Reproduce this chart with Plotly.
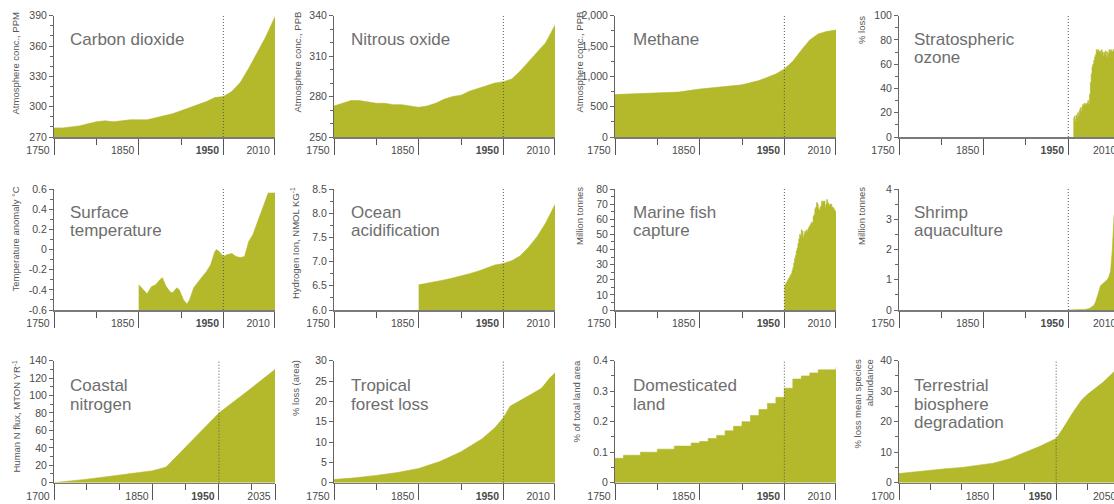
import numpy as np
import plotly.graph_objects as go

# ---------------- data ----------------
dec_years = [1750, 1760, 1770, 1780, 1790, 1800, 1810, 1820, 1830, 1840, 1850, 1860, 1870,
             1880, 1890, 1900, 1910, 1920, 1930, 1940, 1950, 1960, 1970, 1980, 1990, 2000, 2011]
co2_ppm = [279, 279, 280, 281, 283, 285, 286, 285, 286, 287, 287, 287, 289,
           291, 293, 296, 299, 302, 305, 309, 310, 315, 324, 338, 353, 369, 389]
n2o_ppb = [273, 275, 277, 277, 276, 275, 275, 274, 274, 273, 272, 273, 275,
           278, 280, 281, 284, 286, 288, 290, 291, 293, 299, 306, 313, 320, 333]

ch4_years = [1750, 1775, 1800, 1825, 1850, 1875, 1900, 1920, 1940, 1950, 1960, 1970, 1980, 1990, 2000, 2011]
ch4_ppb = [700, 715, 725, 740, 790, 820, 860, 930, 1040, 1120, 1250, 1430, 1600, 1700, 1740, 1765]

ozone_years = list(range(1956, 2011))
ozone_loss = [15, 17, 13, 18, 16, 20, 18, 22, 24, 21, 25, 27, 26, 28, 27, 27, 28, 30, 27, 35,
              45, 52, 58, 60, 63, 66, 68, 72, 71, 72, 70, 71, 69, 72, 70, 67, 70, 68, 71, 66,
              70, 68, 72, 70, 72, 71, 70, 72, 69, 71, 70, 72, 70, 71, 70]

temp_years = [1850, 1855, 1860, 1865, 1870, 1875, 1878, 1882, 1887, 1890, 1895, 1898, 1903, 1907,
              1910, 1915, 1920, 1925, 1930, 1935, 1940, 1942, 1945, 1950, 1955, 1960, 1965, 1970,
              1975, 1980, 1985, 1990, 1995, 2000, 2003, 2011]
temp_anom = [-0.35, -0.40, -0.44, -0.37, -0.35, -0.30, -0.28, -0.36, -0.42, -0.43, -0.38, -0.40,
             -0.50, -0.54, -0.50, -0.38, -0.32, -0.27, -0.22, -0.15, -0.02, 0.0, -0.02, -0.07,
             -0.05, -0.04, -0.07, -0.08, -0.07, 0.08, 0.15, 0.26, 0.37, 0.50, 0.56, 0.56]

ocean_years = [1850, 1860, 1870, 1880, 1890, 1900, 1910, 1920, 1930, 1940, 1950, 1960, 1970, 1980, 1990, 2000, 2011]
ocean_h = [6.52, 6.55, 6.58, 6.62, 6.66, 6.70, 6.75, 6.80, 6.86, 6.93, 6.96, 7.02, 7.12, 7.30, 7.52, 7.80, 8.18]

fish_years = list(range(1950, 2012))
fish_mt = [16, 17, 18, 19, 20, 21, 22, 23, 24, 26, 28, 31, 34, 36, 39, 41, 44, 47, 50, 49,
           53, 52, 48, 50, 52, 51, 53, 52, 54, 55, 56, 57, 58, 58, 62, 63, 67, 68, 71, 70,
           67, 66, 68, 69, 72, 71, 72, 72, 68, 70, 73, 71, 70, 69, 70, 70, 68, 68, 67, 66, 65, 65]

shrimp_years = [1950, 1960, 1970, 1975, 1978, 1980, 1982, 1984, 1986, 1988, 1990, 1992, 1994,
                1996, 1998, 2000, 2002, 2003, 2004, 2006, 2008, 2010]
shrimp_mt = [0, 0, 0.02, 0.05, 0.1, 0.15, 0.25, 0.4, 0.6, 0.8, 0.85, 0.9, 0.95,
             1.0, 1.1, 1.3, 2.0, 2.8, 3.1, 3.4, 3.6, 3.8]

nitro_years = [1700, 1720, 1750, 1800, 1850, 1870, 1950, 2000, 2035]
nitro_flux = [0, 1.5, 4, 8.8, 13.8, 18, 80, 109, 130]

forest_years = [1750, 1775, 1800, 1825, 1850, 1875, 1900, 1925, 1940, 1950, 1958, 1965, 1975, 1985, 1995, 2000, 2005, 2011]
forest_loss = [0.8, 1.2, 1.8, 2.5, 3.5, 5.2, 7.6, 10.8, 13.5, 16, 18.8, 19.7, 20.8, 22, 23.2, 24.5, 25.8, 27]

land_years = [1750, 1760, 1770, 1780, 1790, 1800, 1810, 1820, 1830, 1840, 1850, 1860, 1870, 1880,
              1890, 1900, 1910, 1920, 1930, 1940, 1950, 1960, 1970, 1980, 1990, 2000, 2011]
land_frac = [0.08, 0.09, 0.09, 0.10, 0.10, 0.11, 0.11, 0.12, 0.12, 0.13, 0.135, 0.145, 0.155, 0.17,
             0.185, 0.20, 0.22, 0.24, 0.26, 0.28, 0.31, 0.34, 0.35, 0.36, 0.37, 0.37, 0.38]

bio_years = [1700, 1725, 1750, 1775, 1800, 1825, 1850, 1875, 1900, 1925, 1950, 1960, 1975, 1990, 2000, 2025, 2050]
bio_loss = [3, 3.6, 4.2, 4.6, 5, 5.6, 6.4, 7.8, 9.8, 12, 14.5, 17.5, 22.5, 27, 29, 33, 38]

# tick labels
x_ticks_std = [1750, 1850, 1950, 2010]
x_text_std = ['1750', '1850', '<b>1950</b>', '2010']
x_minor_std = [1800, 1900]
x_ticks_cut = [1750, 1850, 1950]
x_text_cut = ['1750', '1850', '<b>1950</b>']
x_ticks_1700 = [1700, 1850, 1950, 2035]
x_text_1700 = ['1700', '1850', '<b>1950</b>', '2035']
x_ticks_1700cut = [1700, 1850, 1950]
x_text_1700cut = ['1700', '1850', '<b>1950</b>']
x_minor_1700 = [1750, 1800, 1900, 2000]

# ---------------- styling / layout ----------------
W, H = 1114, 504
FILL = '#b3b92b'
FONT = 'Liberation Sans, Arial, sans-serif'
TITLE_C = '#6e6e6e'
TICK_C = '#4a4a4a'

col_left = [54, 334, 615, 899]
col_w = 221
rows = [(15.7, 137.0), (189.0, 310.0), (360.7, 482.7)]


def px_x(p):
    return min(max(p / W, 0.0), 1.0)


def px_y(p):
    return min(max(1 - p / H, 0.0), 1.0)


panels = [
    dict(r=0, c=0, x=dec_years, y=co2_ppm, yr=[270, 390], yt=[270, 300, 330, 360, 390],
         ytt=['270', '300', '330', '360', '390'], ym=10, xr=[1750, 2011],
         title=['Carbon dioxide'], ytitle='Atmosphere conc., PPM', ytx=15, yty=10),
    dict(r=0, c=1, x=dec_years, y=n2o_ppb, yr=[250, 340], yt=[250, 280, 310, 340],
         ytt=['250', '280', '310', '340'], ym=10, xr=[1750, 2011],
         title=['Nitrous oxide'], ytitle='Atmosphere conc., PPB', ytx=297, yty=10),
    dict(r=0, c=2, x=ch4_years, y=ch4_ppb, yr=[0, 2000], yt=[0, 500, 1000, 1500, 2000],
         ytt=['0', '500', '1,000', '1,500', '2,000'], ym=250, xr=[1750, 2011],
         title=['Methane'], ytitle='Atmosphere conc., PPB', ytx=579, yty=10),
    dict(r=0, c=3, x=ozone_years, y=ozone_loss, yr=[0, 100], yt=[0, 20, 40, 60, 80, 100],
         ytt=['0', '20', '40', '60', '80', '100'], ym=10, xr=[1750, 2004], shape='hv',
         title=['Stratospheric', 'ozone'], ytitle='% loss', ytx=861, yty=14, cut='2010'),
    dict(r=1, c=0, x=temp_years, y=temp_anom, yr=[-0.6, 0.6], yt=[-0.6, -0.4, -0.2, 0, 0.2, 0.4, 0.6],
         ytt=['-0.6', '-0.4', '-0.2', '0', '0.2', '0.4', '0.6'], ym=0.1, xr=[1750, 2011], base=-0.6,
         title=['Surface', 'temperature'], ytitle='Temperature anomaly °C', ytx=15, yty=185),
    dict(r=1, c=1, x=ocean_years, y=ocean_h, yr=[6.0, 8.5], yt=[6.0, 6.5, 7.0, 7.5, 8.0, 8.5],
         ytt=['6.0', '6.5', '7.0', '7.5', '8.0', '8.5'], ym=0.25, xr=[1750, 2011],
         title=['Ocean', 'acidification'], ytitle='Hydrogen Ion, NMOL KG<sup>-1</sup>', ytx=295, yty=185),
    dict(r=1, c=2, x=fish_years, y=fish_mt, yr=[0, 80], yt=[0, 10, 20, 30, 40, 50, 60, 70, 80],
         ytt=['0', '10', '20', '30', '40', '50', '60', '70', '80'], ym=5, xr=[1750, 2011], shape='hv',
         title=['Marine fish', 'capture'], ytitle='Million tonnes', ytx=579, yty=185),
    dict(r=1, c=3, x=shrimp_years, y=shrimp_mt, yr=[0, 4], yt=[0, 1, 2, 3, 4],
         ytt=['0', '1', '2', '3', '4'], ym=0.5, xr=[1750, 2004],
         title=['Shrimp', 'aquaculture'], ytitle='Million tonnes', ytx=861, yty=185, cut='2010'),
    dict(r=2, c=0, x=nitro_years, y=nitro_flux, yr=[0, 140], yt=[0, 20, 40, 60, 80, 100, 120, 140],
         ytt=['0', '20', '40', '60', '80', '100', '120', '140'], ym=10, xr=[1700, 2035], x1700=True,
         title=['Coastal', 'nitrogen'], ytitle='Human N flux, MTON YR<sup>-1</sup>', ytx=16, yty=358),
    dict(r=2, c=1, x=forest_years, y=forest_loss, yr=[0, 30], yt=[0, 5, 10, 15, 20, 25, 30],
         ytt=['0', '5', '10', '15', '20', '25', '30'], ym=None, xr=[1750, 2011],
         title=['Tropical', 'forest loss'], ytitle='% loss (area)', ytx=295, yty=358),
    dict(r=2, c=2, x=land_years, y=land_frac, yr=[0, 0.4], yt=[0, 0.1, 0.2, 0.3, 0.4],
         ytt=['0', '0.1', '0.2', '0.3', '0.4'], ym=0.05, xr=[1750, 2011], shape='hv',
         title=['Domesticated', 'land'], ytitle='% of total land area', ytx=576, yty=358),
    dict(r=2, c=3, x=bio_years, y=bio_loss, yr=[0, 40], yt=[0, 10, 20, 30, 40],
         ytt=['0', '10', '20', '30', '40'], ym=5, xr=[1700, 2042], x1700=True,
         title=['Terrestrial', 'biosphere', 'degradation'],
         ytitle='% loss mean species<br>abundance', ytx=863, yty=358, cut='2050'),
]

fig = go.Figure()
layout = {}
shapes = []
annotations = []

title_lines_y = {0: [40, 57.5], 1: [212.7, 231], 2: [385.5, 404, 422]}

for i, p in enumerate(panels):
    n = i + 1
    xa = 'x' if n == 1 else f'x{n}'
    ya = 'y' if n == 1 else f'y{n}'
    xkey = 'xaxis' if n == 1 else f'xaxis{n}'
    ykey = 'yaxis' if n == 1 else f'yaxis{n}'
    r, c = p['r'], p['c']
    top, bot = rows[r]
    left = col_left[c]
    right = min(left + col_w, W)
    cut = p.get('cut')

    shape = p.get('shape', 'linear')
    if p.get('base') is not None:
        fig.add_trace(go.Scatter(x=p['x'], y=[p['base']] * len(p['x']), xaxis=xa, yaxis=ya,
                                 mode='lines', line=dict(width=0, color=FILL),
                                 hoverinfo='skip', showlegend=False))
        fillmode = 'tonexty'
    else:
        fillmode = 'tozeroy'
    fig.add_trace(go.Scatter(x=p['x'], y=p['y'], xaxis=xa, yaxis=ya, mode='lines',
                             line=dict(width=0.6, color=FILL, shape=shape),
                             fill=fillmode, fillcolor=FILL, hoverinfo='skip', showlegend=False))

    if p.get('x1700'):
        tv, tt = (x_ticks_1700cut, x_text_1700cut) if cut else (x_ticks_1700, x_text_1700)
        mv = x_minor_1700
    else:
        tv, tt = (x_ticks_cut, x_text_cut) if cut else (x_ticks_std, x_text_std)
        mv = x_minor_std

    layout[xkey] = dict(
        domain=[px_x(left), px_x(right)], range=p['xr'], anchor=ya,
        automargin=False,
        showgrid=False, zeroline=False, showline=True, linecolor='#7a7a7a', linewidth=1.5,
        tickmode='array', tickvals=tv, ticktext=tt, ticks='outside', ticklen=16,
        tickcolor='#555', tickwidth=1, ticklabelshift=-16, ticklabelstandoff=-13,
        tickfont=dict(family=FONT, size=10.5, color=TICK_C),
        minor=dict(tickvals=mv, ticks='outside', ticklen=6, tickcolor='#555', tickwidth=1, showgrid=False),
        fixedrange=True,
    )
    ymin, ymax = p['yr']
    ymd = dict(ticks='outside', ticklen=3, tickcolor='#666', tickwidth=1, showgrid=False)
    if p['ym'] is not None:
        ymd['tickvals'] = [float(v) for v in np.arange(ymin, ymax + 1e-9, p['ym'])]
    else:
        ymd['ticks'] = ''
    layout[ykey] = dict(
        domain=[px_y(bot), px_y(top)], range=p['yr'], anchor=xa, automargin=False,
        showgrid=False, zeroline=False, showline=True, linecolor='#666', linewidth=1,
        tickmode='array', tickvals=p['yt'], ticktext=p['ytt'], ticks='outside', ticklen=4,
        tickcolor='#666', tickwidth=1, tickfont=dict(family=FONT, size=10.5, color=TICK_C),
        minor=ymd, fixedrange=True,
    )

    shapes.append(dict(type='line', xref=xa, yref=f'{ya} domain', x0=1950, x1=1950, y0=0, y1=1,
                       line=dict(color='#555', width=1, dash='1px,2px'), layer='above'))

    # panel title lines
    tx = left + (14 if c == 0 else 15 if c == 1 else 16 if c == 2 else 13)
    for k, line in enumerate(p['title']):
        annotations.append(dict(text=line, xref='paper', yref='paper', x=px_x(tx),
                                y=px_y(title_lines_y[r][k]), xanchor='left', yanchor='middle',
                                showarrow=False, font=dict(family=FONT, size=17, color=TITLE_C)))
    # y axis title
    annotations.append(dict(text=p['ytitle'], xref='paper', yref='paper', x=px_x(p['ytx']),
                            y=px_y(p['yty']), xanchor='center', yanchor='top',
                            textangle=-90, align='right', showarrow=False,
                            font=dict(family=FONT, size=9.5, color='#555')))
    if cut:
        annotations.append(dict(text=cut, xref='paper', yref='paper', x=px_x(1091),
                                y=px_y(bot + 13), xanchor='left', yanchor='middle', showarrow=False,
                                font=dict(family=FONT, size=10.5, color=TICK_C)))

fig.update_layout(
    width=W, height=H, margin=dict(l=0, r=0, t=0, b=0, autoexpand=False),
    paper_bgcolor='white', plot_bgcolor='white',
    font=dict(family=FONT), showlegend=False,
    shapes=shapes, annotations=annotations, **layout,
)

fig.write_html('out.html', config={'displayModeBar': False, 'staticPlot': True},
               post_script="document.body.style.margin='0px';document.body.style.overflow='hidden';")
